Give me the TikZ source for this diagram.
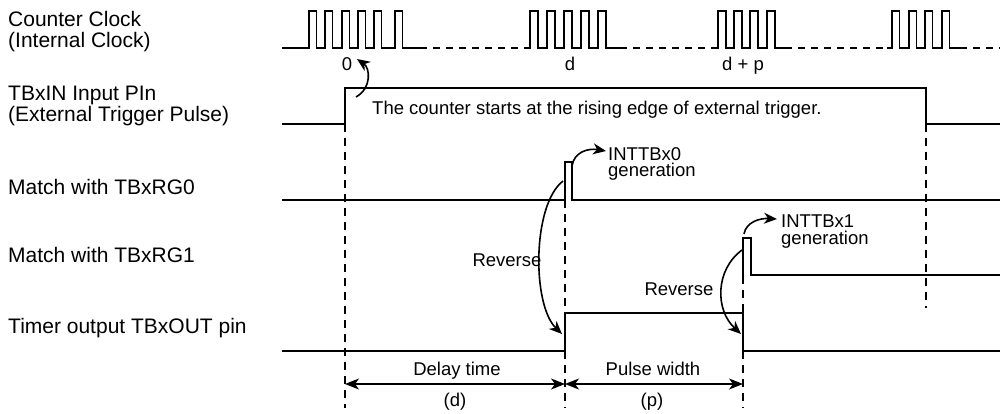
\documentclass[tikz,border=0pt]{standalone}
\usepackage{fontspec}
\setmainfont{Liberation Sans}
\usetikzlibrary{arrows.meta}
\tikzset{
  sig/.style={line width=2pt, line join=miter},
  clk/.style={line width=1.6pt, line join=miter},
  clkdash/.style={line width=1.6pt, dash pattern=on 7pt off 6pt},
  guide/.style={line width=1.6pt, dash pattern=on 8pt off 6pt},
  lbl/.style={font=\fontsize{21}{21}\selectfont, align=left, inner sep=0pt, anchor=base west},
  txt/.style={font=\fontsize{18.5}{17}\selectfont, inner sep=0pt, anchor=base},
  curv/.style={line width=1.6pt, -{Stealth[length=13pt,width=11pt,inset=4pt]}},
  dim/.style={line width=1.6pt, {Stealth[length=14pt,width=11pt,inset=4pt]}-{Stealth[length=14pt,width=11pt,inset=4pt]}},
}
\begin{document}
\begin{tikzpicture}[x=1pt,y=-1pt]
\useasboundingbox (0,0) rectangle (1000,414);

% left labels (anchor = baseline of last line)
\node[lbl] (lclk) at (8,48) {Counter Clock\\(Internal Clock)};
\node[lbl] (ltrg) at (8,122) {TBxIN Input PIn\\(External Trigger Pulse)};
\node[lbl] (lrg0) at (8,194) {Match with TBxRG0};
\node[lbl] (lrg1) at (8,262) {Match with TBxRG1};
\node[lbl] (lout) at (8,333) {Timer output TBxOUT pin};

% counter clock
\draw[clk] (282,48) foreach \r in {309,325,342,358,374,395} { -- (\r,48) -- (\r,11) -- (\r+7.5,11) -- (\r+7.5,48) } -- (420,48);
\draw[clkdash] (420,48) -- (525,48);
\draw[clk] (525,48) foreach \r in {530,547,564,581,598} { -- (\r,48) -- (\r,11) -- (\r+8,11) -- (\r+8,48) } -- (620,48);
\draw[clkdash] (620,48) -- (712,48);
\draw[clk] (712,48) foreach \r in {718,734,750,767} { -- (\r,48) -- (\r,11) -- (\r+8,11) -- (\r+8,48) } -- (785,48);
\draw[clkdash] (785,48) -- (887,48);
\draw[clk] (887,48) foreach \r in {892,909,925,942} { -- (\r,48) -- (\r,11) -- (\r+7.5,11) -- (\r+7.5,48) } -- (960,48);
\draw[clkdash] (960,48) -- (1000,48);

\node[txt] (c0) at (347,71) {0};
\node[txt] (cd) at (570,71) {d};
\node[txt] (cdp) at (743,71) {d + p};

% trigger
\draw[sig] (282,124) -- (345,124) -- (345,88) -- (926,88) -- (926,124) -- (1000,124);
\node[txt, anchor=base west] (note) at (372,115) {The counter starts at the rising edge of external trigger.};

% TBxRG0
\draw[sig] (282,200) -- (565,200) -- (565,162) -- (572,162) -- (572,200) -- (1000,200);
% TBxRG1
\draw[sig] (743,276) -- (743,238) -- (751,238) -- (751,275) -- (1000,275);
% timer output
\draw[sig] (282,351) -- (565,351) -- (565,313) -- (743,313) -- (743,351) -- (1000,351);

% guides
\draw[guide] (345,124) -- (345,408);
\draw[guide] (565,200) -- (565,313);
\draw[guide] (565,351) -- (565,408);
\draw[guide] (743,276) -- (743,313);
\draw[guide] (743,351) -- (743,408);
\draw[guide] (926,124) -- (926,308);

% interrupt labels (anchor = baseline of last line)
\node[txt, align=left, anchor=base west] (int0) at (608,177) {INTTBx0\\generation};
\node[txt, align=left, anchor=base west] (int1) at (781,244) {INTTBx1\\generation};
\node[txt] (rev0) at (507,266) {Reverse};
\node[txt] (rev1) at (679,295) {Reverse};

% curved arrows
\coordinate (s0a) at (356,97);  \coordinate (s0b) at (357,59);
\draw[curv] (s0a) .. controls (372,88) and (370,68) .. (s0b);
\coordinate (i0a) at (572,166); \coordinate (i0b) at (606,151);
\draw[curv] (i0a) .. controls (574,152) and (588,148) .. (i0b);
\coordinate (i1a) at (744,234); \coordinate (i1b) at (777,219);
\draw[curv] (i1a) .. controls (746,222) and (760,218) .. (i1b);
\coordinate (r0a) at (563,181); \coordinate (r0b) at (562,334);
\draw[curv] (r0a) .. controls (532,205) and (532,305) .. (r0b);
\coordinate (r1a) at (742,250); \coordinate (r1b) at (741,334);
\draw[curv] (r1a) .. controls (715,270) and (715,310) .. (r1b);

% dimensions
\coordinate (m0) at (345,384); \coordinate (m1) at (565,384); \coordinate (m2) at (743,384);
\draw[dim] (m0) -- (m1);
\draw[dim] (m1) -- (m2);
\node[txt] (dl) at (457,375) {Delay time};
\node[txt] (dd) at (455,406) {(d)};
\node[txt] (pl) at (653,375) {Pulse width};
\node[txt] (pp) at (652,406) {(p)};
\end{tikzpicture}
\end{document}
